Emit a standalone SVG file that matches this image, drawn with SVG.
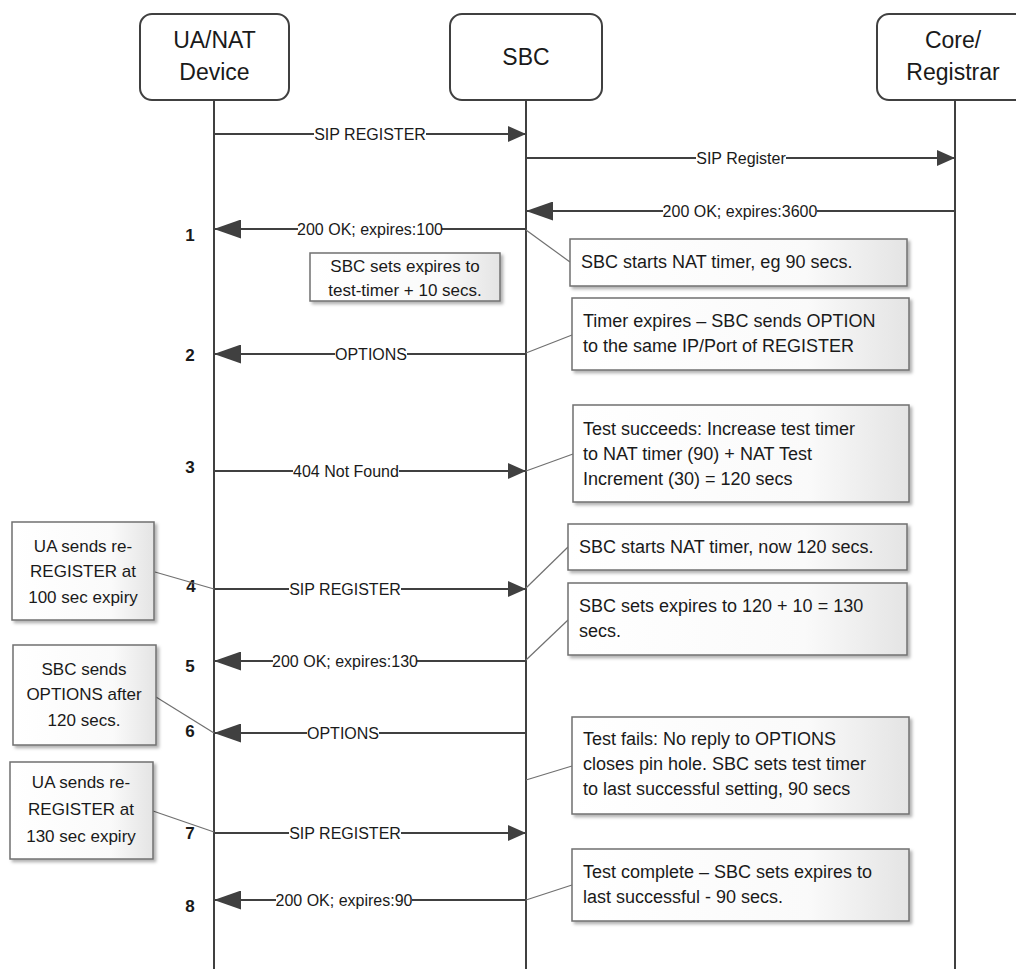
<svg xmlns="http://www.w3.org/2000/svg" width="1016" height="969" viewBox="0 0 1016 969">
  <style>
    .actor { fill: #ffffff; stroke: #404040; stroke-width: 2; }
    .life { stroke: #404040; stroke-width: 2; fill: none; }
    .msg { stroke: #404040; stroke-width: 2; fill: none; }
    .hdr { font-family: "Liberation Sans", Arial, sans-serif; font-size: 23px; fill: #1a1a1a; text-anchor: middle; }
    .bg { fill: #ffffff; }
    .lbl { font-family: "Liberation Sans", Arial, sans-serif; font-size: 16px; fill: #1a1a1a; text-anchor: middle; }
    .num { font-family: "Liberation Sans", Arial, sans-serif; font-size: 17px; font-weight: bold; fill: #1a1a1a; text-anchor: middle; }
    .note { fill: url(#noteFill); stroke: #707070; stroke-width: 1.5; filter: url(#shadow); }
    .ntxt { font-family: "Liberation Sans", Arial, sans-serif; font-size: 18px; fill: #1a1a1a; }
    .ctxt { font-family: "Liberation Sans", Arial, sans-serif; font-size: 17px; fill: #1a1a1a; text-anchor: middle; }
    .lead { stroke: #707070; stroke-width: 1.2; fill: none; }
  </style>
  <defs>
    <linearGradient id="noteFill" x1="0" y1="0" x2="1" y2="0">
      <stop offset="0" stop-color="#ffffff"/>
      <stop offset="0.7" stop-color="#fafafa"/>
      <stop offset="1" stop-color="#e4e4e4"/>
    </linearGradient>
    <filter id="shadow" x="-5%" y="-10%" width="115%" height="130%">
      <feDropShadow dx="2.5" dy="2.5" stdDeviation="1.5" flood-color="#000000" flood-opacity="0.3"/>
    </filter>
    <!-- arrowhead for responses travelling leftwards (larger) -->
    <marker id="headL" markerUnits="userSpaceOnUse" markerWidth="27" markerHeight="19" viewBox="0 0 27 19" refX="27" refY="9.5" orient="auto">
      <path d="M0,0 L27,9.5 L0,19 z" fill="#404040"/>
    </marker>
    <!-- arrowhead for requests travelling rightwards (smaller) -->
    <marker id="headR" markerUnits="userSpaceOnUse" markerWidth="18" markerHeight="16" viewBox="0 0 18 16" refX="18" refY="8" orient="auto">
      <path d="M0,0 L18,8 L0,16 z" fill="#404040"/>
    </marker>
  </defs>

  <rect width="1016" height="969" fill="#ffffff"/>

  <!-- participants -->
  <g id="ua">
    <rect class="actor" x="140" y="14" width="149" height="86" rx="12"/>
    <text class="hdr" x="214.5" y="48">UA/NAT</text>
    <text class="hdr" x="214.5" y="80">Device</text>
    <line class="life" x1="214" y1="100" x2="214" y2="969"/>
  </g>
  <g id="sbc">
    <rect class="actor" x="450" y="14" width="152" height="86" rx="12"/>
    <text class="hdr" x="526" y="65">SBC</text>
    <line class="life" x1="526" y1="100" x2="526" y2="969"/>
  </g>
  <g id="core">
    <rect class="actor" x="877" y="14" width="165" height="86" rx="12"/>
    <text class="hdr" x="953" y="48">Core/</text>
    <text class="hdr" x="953" y="80">Registrar</text>
    <line class="life" x1="955" y1="100" x2="955" y2="969"/>
  </g>

  <!-- messages: line, white label backing, label -->
  <g id="messages">
    <line class="msg" x1="214" y1="134" x2="526" y2="134" marker-end="url(#headR)"/>
    <rect class="bg" x="314" y="125" width="112" height="18"/>
    <text class="lbl" x="370" y="139.5">SIP REGISTER</text>

    <line class="msg" x1="526" y1="158" x2="955" y2="158" marker-end="url(#headR)"/>
    <rect class="bg" x="696" y="149" width="90" height="18"/>
    <text class="lbl" x="741" y="163.5">SIP Register</text>

    <line class="msg" x1="955" y1="211" x2="526" y2="211" marker-end="url(#headL)"/>
    <rect class="bg" x="663" y="202" width="154" height="18"/>
    <text class="lbl" x="740" y="216.5">200 OK; expires:3600</text>

    <line class="msg" x1="526" y1="229" x2="214" y2="229" marker-end="url(#headL)"/>
    <rect class="bg" x="298" y="220" width="144" height="18"/>
    <text class="lbl" x="370" y="234.5">200 OK; expires:100</text>

    <line class="msg" x1="526" y1="354" x2="214" y2="354" marker-end="url(#headL)"/>
    <rect class="bg" x="335" y="345" width="72" height="18"/>
    <text class="lbl" x="371" y="359.5">OPTIONS</text>

    <line class="msg" x1="214" y1="471" x2="526" y2="471" marker-end="url(#headR)"/>
    <rect class="bg" x="293" y="462" width="106" height="18"/>
    <text class="lbl" x="346" y="476.5">404 Not Found</text>

    <line class="msg" x1="214" y1="589" x2="526" y2="589" marker-end="url(#headR)"/>
    <rect class="bg" x="289" y="580" width="112" height="18"/>
    <text class="lbl" x="345" y="594.5">SIP REGISTER</text>

    <line class="msg" x1="526" y1="661" x2="214" y2="661" marker-end="url(#headL)"/>
    <rect class="bg" x="273" y="652" width="144" height="18"/>
    <text class="lbl" x="345" y="666.5">200 OK; expires:130</text>

    <line class="msg" x1="526" y1="733" x2="214" y2="733" marker-end="url(#headL)"/>
    <rect class="bg" x="307" y="724" width="72" height="18"/>
    <text class="lbl" x="343" y="738.5">OPTIONS</text>

    <line class="msg" x1="214" y1="833" x2="526" y2="833" marker-end="url(#headR)"/>
    <rect class="bg" x="289" y="824" width="112" height="18"/>
    <text class="lbl" x="345" y="838.5">SIP REGISTER</text>

    <line class="msg" x1="526" y1="900" x2="214" y2="900" marker-end="url(#headL)"/>
    <rect class="bg" x="276" y="891" width="136" height="18"/>
    <text class="lbl" x="344" y="905.5">200 OK; expires:90</text>
  </g>

  <!-- step numbers -->
  <g id="steps">
    <text class="num" x="190" y="241">1</text>
    <text class="num" x="190" y="361">2</text>
    <text class="num" x="190" y="473">3</text>
    <text class="num" x="191" y="592">4</text>
    <text class="num" x="190" y="672">5</text>
    <text class="num" x="190" y="737">6</text>
    <text class="num" x="190" y="839">7</text>
    <text class="num" x="190" y="912">8</text>
  </g>

  <!-- note leader lines -->
  <g id="leaders">
    <line class="lead" x1="526" y1="230" x2="570" y2="262"/>
    <line class="lead" x1="526" y1="353" x2="572" y2="335"/>
    <line class="lead" x1="526" y1="471" x2="573" y2="454"/>
    <line class="lead" x1="526" y1="588" x2="568" y2="547"/>
    <line class="lead" x1="526" y1="660" x2="568" y2="620"/>
    <line class="lead" x1="526" y1="780" x2="572" y2="766"/>
    <line class="lead" x1="526" y1="900" x2="572" y2="885"/>
    <line class="lead" x1="155" y1="572" x2="214" y2="589"/>
    <line class="lead" x1="156" y1="697" x2="214" y2="733"/>
    <line class="lead" x1="153" y1="811" x2="214" y2="832"/>
  </g>

  <!-- notes -->
  <g id="note-nat-timer">
    <rect class="note" x="570" y="239" width="337" height="47"/>
    <text class="ntxt" x="581" y="268">SBC starts NAT timer, eg 90 secs.</text>
  </g>
  <g id="note-expires-rule">
    <rect class="note" x="310" y="253" width="190" height="48"/>
    <text class="ctxt" x="405" y="272">SBC sets expires to</text>
    <text class="ctxt" x="405" y="296">test-timer + 10 secs.</text>
  </g>
  <g id="note-timer-expires">
    <rect class="note" x="572" y="298" width="337" height="72"/>
    <text class="ntxt" x="583" y="327">Timer expires – SBC sends OPTION</text>
    <text class="ntxt" x="583" y="352">to the same IP/Port of REGISTER</text>
  </g>
  <g id="note-test-succeeds">
    <rect class="note" x="573" y="405" width="336" height="97"/>
    <text class="ntxt" x="583" y="435">Test succeeds: Increase test timer</text>
    <text class="ntxt" x="583" y="460">to NAT timer (90) + NAT Test</text>
    <text class="ntxt" x="583" y="485">Increment (30) = 120 secs</text>
  </g>
  <g id="note-nat-120">
    <rect class="note" x="568" y="524" width="339" height="46"/>
    <text class="ntxt" x="579" y="553">SBC starts NAT timer, now 120 secs.</text>
  </g>
  <g id="note-expires-130">
    <rect class="note" x="568" y="583" width="339" height="72"/>
    <text class="ntxt" x="579" y="612">SBC sets expires to 120 + 10 = 130</text>
    <text class="ntxt" x="579" y="637">secs.</text>
  </g>
  <g id="note-test-fails">
    <rect class="note" x="572" y="717" width="337" height="97"/>
    <text class="ntxt" x="583" y="745">Test fails: No reply to OPTIONS</text>
    <text class="ntxt" x="583" y="770">closes pin hole. SBC sets test timer</text>
    <text class="ntxt" x="583" y="795">to last successful setting, 90 secs</text>
  </g>
  <g id="note-test-complete">
    <rect class="note" x="572" y="849" width="337" height="72"/>
    <text class="ntxt" x="583" y="878">Test complete – SBC sets expires to</text>
    <text class="ntxt" x="583" y="903">last successful - 90 secs.</text>
  </g>
  <g id="note-ua-rereg-100">
    <rect class="note" x="12" y="522" width="142" height="98"/>
    <text class="ctxt" x="83" y="552">UA sends re-</text>
    <text class="ctxt" x="83" y="577">REGISTER at</text>
    <text class="ctxt" x="83" y="603">100 sec expiry</text>
  </g>
  <g id="note-sbc-options">
    <rect class="note" x="13" y="645" width="143" height="100"/>
    <text class="ctxt" x="84" y="675">SBC sends</text>
    <text class="ctxt" x="84" y="700">OPTIONS after</text>
    <text class="ctxt" x="84" y="726">120 secs.</text>
  </g>
  <g id="note-ua-rereg-130">
    <rect class="note" x="10" y="762" width="143" height="97"/>
    <text class="ctxt" x="81" y="788">UA sends re-</text>
    <text class="ctxt" x="81" y="815">REGISTER at</text>
    <text class="ctxt" x="81" y="842">130 sec expiry</text>
  </g>
</svg>
